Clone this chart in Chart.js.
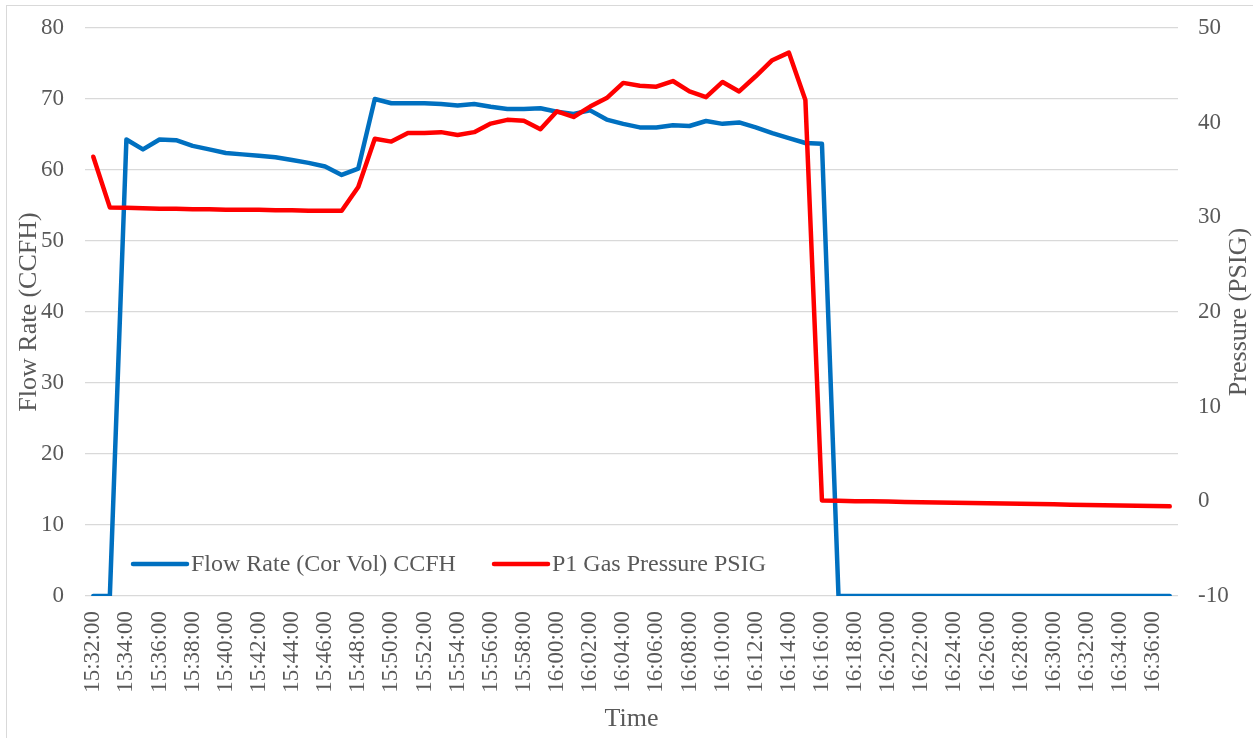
<!DOCTYPE html>
<html>
<head>
<meta charset="utf-8">
<title>Flow Rate and Gas Pressure</title>
<script src="https://cdn.jsdelivr.net/npm/chart.js@4.4.0/dist/chart.umd.min.js"></script>
<style>
  html, body { margin: 0; padding: 0; background: #fff; }
  #wrap { position: relative; width: 1253px; height: 738px; overflow: hidden; }
  #frame { position: absolute; left: 6px; top: 5px; width: 1260px; height: 745px;
           border: 1.5px solid #d9d9d9; box-sizing: border-box; }
  #chart { position: absolute; left: 0; top: 0; }
</style>
</head>
<body>
<div id="wrap">
  <div id="frame"></div>
  <canvas id="chart" width="1253" height="738"></canvas>
</div>
<script>
// one reading per minute, 15:32 to 16:37
const timeLabels = [
  '15:32:00','15:33:00','15:34:00','15:35:00','15:36:00','15:37:00','15:38:00','15:39:00',
  '15:40:00','15:41:00','15:42:00','15:43:00','15:44:00','15:45:00','15:46:00','15:47:00',
  '15:48:00','15:49:00','15:50:00','15:51:00','15:52:00','15:53:00','15:54:00','15:55:00',
  '15:56:00','15:57:00','15:58:00','15:59:00','16:00:00','16:01:00','16:02:00','16:03:00',
  '16:04:00','16:05:00','16:06:00','16:07:00','16:08:00','16:09:00','16:10:00','16:11:00',
  '16:12:00','16:13:00','16:14:00','16:15:00','16:16:00','16:17:00','16:18:00','16:19:00',
  '16:20:00','16:21:00','16:22:00','16:23:00','16:24:00','16:25:00','16:26:00','16:27:00',
  '16:28:00','16:29:00','16:30:00','16:31:00','16:32:00','16:33:00','16:34:00','16:35:00',
  '16:36:00','16:37:00'
];

// Flow Rate (Cor Vol) CCFH
const flowRate = [
  0, 0, 64.3, 62.9, 64.3, 64.2, 63.4, 62.9,
  62.4, 62.2, 62.0, 61.8, 61.4, 61.0, 60.5, 59.3,
  60.2, 70.0, 69.4, 69.4, 69.4, 69.3, 69.1, 69.3,
  68.9, 68.6, 68.6, 68.7, 68.2, 67.9, 68.4, 67.1,
  66.5, 66.0, 66.0, 66.3, 66.2, 66.9, 66.5, 66.7,
  66.0, 65.2, 64.5, 63.8, 63.7, 0, 0, 0,
  0, 0, 0, 0, 0, 0, 0, 0,
  0, 0, 0, 0, 0, 0, 0, 0,
  0, 0
];

// P1 Gas Pressure PSIG
const gasPressure = [
  36.4, 31.05, 31.0, 30.95, 30.9, 30.9, 30.85, 30.85,
  30.8, 30.8, 30.8, 30.75, 30.75, 30.7, 30.7, 30.7,
  33.2, 38.3, 38.0, 38.9, 38.9, 39.0, 38.7, 39.0,
  39.9, 40.3, 40.2, 39.3, 41.2, 40.6, 41.7, 42.6,
  44.2, 43.9, 43.8, 44.4, 43.3, 42.7, 44.3, 43.3,
  44.9, 46.6, 47.4, 42.4, 0.1, 0.05, 0.02, 0.0,
  -0.03, -0.06, -0.09, -0.12, -0.15, -0.18, -0.2, -0.23,
  -0.26, -0.29, -0.32, -0.35, -0.38, -0.41, -0.44, -0.47,
  -0.5, -0.53
];

const seriesNames = ['Flow Rate (Cor Vol) CCFH', 'P1 Gas Pressure PSIG'];
const seriesColors = ['#0070C0', '#FF0000'];

const textColor = '#595959';
const serif = "'Liberation Serif', 'Times New Roman', serif";

// legend sits inside the plot, bottom left, like the Excel original
const insideLegend = {
  id: 'insideLegend',
  afterDatasetsDraw(chart) {
    const ctx = chart.ctx;
    const area = chart.chartArea;
    const y = area.bottom - 32;
    const items = [
      { x: area.left + 48, name: seriesNames[0], color: seriesColors[0] },
      { x: area.left + 409, name: seriesNames[1], color: seriesColors[1] }
    ];
    ctx.save();
    ctx.font = '24px ' + serif;
    ctx.textBaseline = 'middle';
    ctx.textAlign = 'left';
    items.forEach(it => {
      ctx.strokeStyle = it.color;
      ctx.lineWidth = 4.5;
      ctx.lineCap = 'round';
      ctx.beginPath();
      ctx.moveTo(it.x, y);
      ctx.lineTo(it.x + 54, y);
      ctx.stroke();
      ctx.fillStyle = textColor;
      ctx.fillText(it.name, it.x + 58, y + 1);
    });
    ctx.restore();
  }
};

// right axis title reads bottom-to-top in the original
const rightTitle = {
  id: 'rightTitle',
  afterDraw(chart) {
    const ctx = chart.ctx;
    const area = chart.chartArea;
    ctx.save();
    ctx.translate(1239, (area.top + area.bottom) / 2);
    ctx.rotate(-Math.PI / 2);
    ctx.font = '26px ' + serif;
    ctx.fillStyle = textColor;
    ctx.textAlign = 'center';
    ctx.textBaseline = 'middle';
    ctx.fillText('Pressure (PSIG)', 0, 0);
    ctx.restore();
  }
};

new Chart(document.getElementById('chart'), {
  type: 'line',
  data: {
    labels: timeLabels,
    datasets: [
      {
        label: seriesNames[0],
        data: flowRate,
        borderColor: seriesColors[0],
        backgroundColor: seriesColors[0],
        borderWidth: 4.5,
        pointRadius: 0,
        tension: 0,
        borderCapStyle: 'round',
        borderJoinStyle: 'round',
        yAxisID: 'y',
        order: 2
      },
      {
        label: seriesNames[1],
        data: gasPressure,
        borderColor: seriesColors[1],
        backgroundColor: seriesColors[1],
        borderWidth: 4.5,
        pointRadius: 0,
        tension: 0,
        borderCapStyle: 'round',
        borderJoinStyle: 'round',
        yAxisID: 'y1',
        order: 1
      }
    ]
  },
  options: {
    responsive: false,
    animation: false,
    devicePixelRatio: 1,
    layout: { padding: { left: 0, right: 0, top: 28, bottom: 0 } },
    plugins: {
      legend: { display: false },
      tooltip: { enabled: false }
    },
    scales: {
      x: {
        offset: true,
        grid: { display: false, drawTicks: false },
        border: { display: false },
        ticks: {
          autoSkip: false,
          minRotation: 90,
          maxRotation: 90,
          padding: 15,
          color: textColor,
          font: { family: serif, size: 23 },
          callback: (val, idx) => idx % 2 === 0 ? timeLabels[idx] : ''
        },
        title: {
          display: true,
          text: 'Time',
          color: textColor,
          font: { family: serif, size: 26 },
          padding: { top: 0, bottom: 3 }
        },
        afterFit: s => { s.height = 142; }
      },
      y: {
        position: 'left',
        min: 0,
        max: 80,
        grid: { color: '#d9d9d9', lineWidth: 1.3, drawTicks: false },
        border: { display: false },
        ticks: {
          stepSize: 10,
          padding: 21,
          color: textColor,
          font: { family: serif, size: 23 }
        },
        title: {
          display: true,
          text: 'Flow Rate (CCFH)',
          color: textColor,
          font: { family: serif, size: 26 },
          padding: { top: 14, bottom: 0 }
        },
        afterFit: s => { s.width = 85; s.paddingTop = 0; s.paddingBottom = 0; }
      },
      y1: {
        position: 'right',
        min: -10,
        max: 50,
        grid: { display: false, drawTicks: false },
        border: { display: false },
        ticks: {
          stepSize: 10,
          padding: 20,
          color: textColor,
          font: { family: serif, size: 23 }
        },
        afterFit: s => { s.width = 75; s.paddingTop = 0; s.paddingBottom = 0; }
      }
    }
  },
  plugins: [insideLegend, rightTitle]
});
</script>
</body>
</html>
